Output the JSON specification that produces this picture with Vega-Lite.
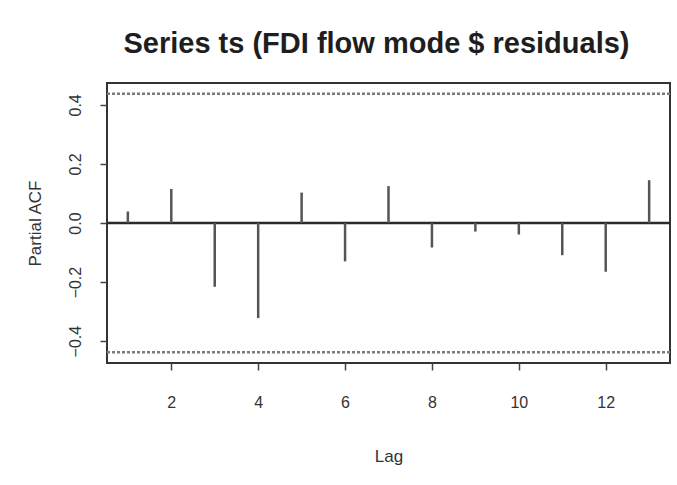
{
  "$schema": "https://vega.github.io/schema/vega-lite/v6.json",
  "width": 563,
  "height": 280,
  "autosize": {"type": "none"},
  "padding": {"left": 107, "top": 83, "right": 7, "bottom": 122},
  "background": "white",
  "title": {
    "text": "Series ts (FDI flow mode $ residuals)",
    "font": "Liberation Sans",
    "fontSize": 29,
    "fontWeight": "bold",
    "color": "#1e1e1e",
    "anchor": "middle",
    "dx": -12,
    "offset": 24
  },
  "data": {"name": "pacf"},
  "datasets": {
    "pacf": [
      {"lag": 1, "pacf": 0.039},
      {"lag": 2, "pacf": 0.115},
      {"lag": 3, "pacf": -0.216},
      {"lag": 4, "pacf": -0.322},
      {"lag": 5, "pacf": 0.103},
      {"lag": 6, "pacf": -0.13},
      {"lag": 7, "pacf": 0.125},
      {"lag": 8, "pacf": -0.083},
      {"lag": 9, "pacf": -0.029},
      {"lag": 10, "pacf": -0.039},
      {"lag": 11, "pacf": -0.109},
      {"lag": 12, "pacf": -0.165},
      {"lag": 13, "pacf": 0.145}
    ],
    "ci": [
      {"bound": 0.438},
      {"bound": -0.438}
    ],
    "zero": [
      {"level": 0}
    ]
  },
  "config": {
    "view": {"stroke": "#333333", "strokeWidth": 2},
    "axis": {
      "labelFont": "Liberation Sans",
      "titleFont": "Liberation Sans",
      "labelFontSize": 16,
      "titleFontSize": 17,
      "labelColor": "#333333",
      "titleColor": "#333333",
      "titleFontWeight": "normal",
      "domain": false,
      "grid": false,
      "tickColor": "#444444",
      "tickSize": 7,
      "tickWidth": 1.5
    }
  },
  "layer": [
    {
      "data": {"name": "ci"},
      "mark": {"type": "rule", "strokeDash": [3, 2], "strokeWidth": 2.5, "color": "#7a7a80"},
      "encoding": {
        "y": {"field": "bound", "type": "quantitative",
          "scale": {"domain": [-0.474, 0.474], "nice": false, "zero": false},
          "axis": {"values": [-0.4, -0.2, 0, 0.2, 0.4], "format": ".1f", "labelAngle": -90, "labelAlign": "center", "labelBaseline": "bottom", "labelPadding": 17, "title": "Partial ACF", "titlePadding": 23}
        }
      }
    },
    {
      "data": {"name": "zero"},
      "mark": {"type": "rule", "strokeWidth": 2.5, "color": "#2a2a2a"},
      "encoding": {"y": {"field": "level", "type": "quantitative"}}
    },
    {
      "mark": {"type": "rule", "strokeWidth": 2.5, "color": "#555555"},
      "encoding": {
        "x": {"field": "lag", "type": "quantitative",
          "scale": {"domain": [0.52, 13.48], "nice": false, "zero": false},
          "axis": {"values": [2, 4, 6, 8, 10, 12], "format": "d", "labelPadding": 24, "title": "Lag", "titlePadding": 38}
        },
        "y": {"field": "pacf", "type": "quantitative"},
        "y2": {"datum": 0}
      }
    }
  ]
}
